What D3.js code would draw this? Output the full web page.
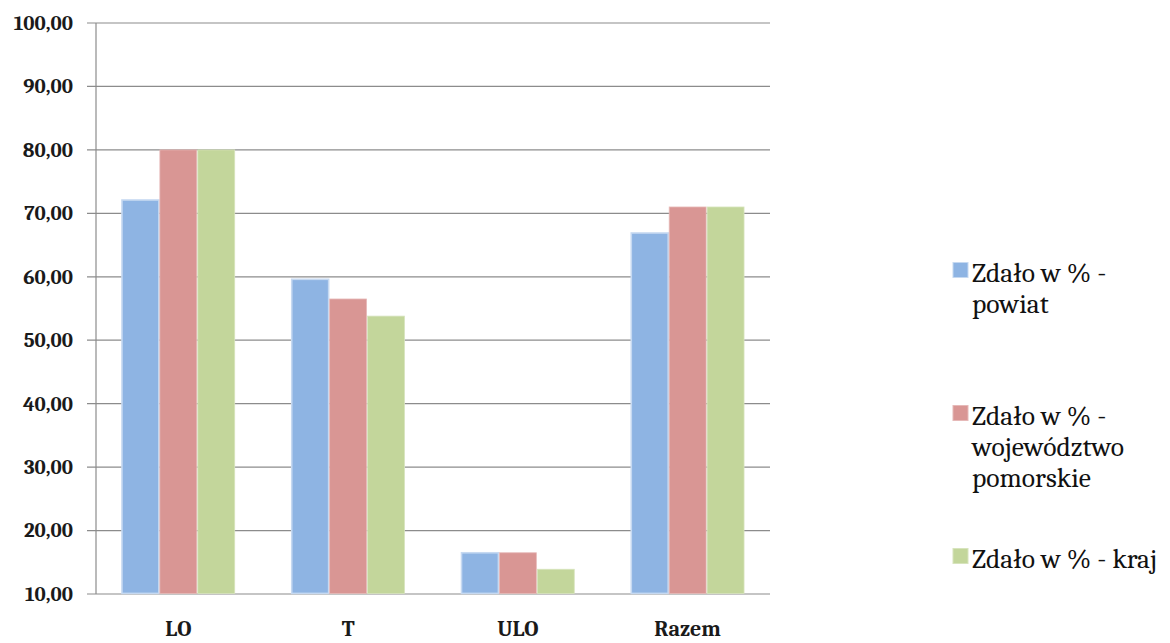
<!DOCTYPE html>
<html>
<head>
<meta charset="utf-8">
<script src="https://cdn.jsdelivr.net/npm/d3@7"></script>
<style>
  html, body { margin: 0; padding: 0; background: #fff; }
  svg { display: block; }
</style>
</head>
<body>
<svg id="chart" width="1170" height="643"></svg>
<script>
const categories = ["LO", "T", "ULO", "Razem"];
const seriesNames = ["Zdało w % - powiat", "Zdało w % - województwo pomorskie", "Zdało w % - kraj"];
const powiat = [72.1, 59.6, 16.5, 66.9];
const wojewodztwo = [80.0, 56.5, 16.5, 71.0];
const kraj = [80.0, 53.8, 13.9, 71.0];
const yTicks = [10, 20, 30, 40, 50, 60, 70, 80, 90, 100];
const legendLines = [["Zdało w % -", "powiat"], ["Zdało w % -", "województwo", "pomorskie"], ["Zdało w % - kraj"]];

const series = [powiat, wojewodztwo, kraj];
const colors = ["#8eb4e3", "#d99694", "#c3d69b"];
const strokes = ["#c6d9f1", "#e6b9b8", "#d7e4bd"];
const FONT = '"Caladea", "Liberation Serif", "Tinos", serif';

const svg = d3.select("#chart");
const plotLeft = 96, plotRight = 770, plotTop = 23, plotBottom = 594;

const x = d3.scaleBand().domain(categories).range([plotLeft, plotRight]).paddingInner(0.33).paddingOuter(0.15);
const xs = d3.scaleBand().domain(d3.range(series.length)).range([0, x.bandwidth()]);
const y = d3.scaleLinear().domain([10, 100]).range([plotBottom, plotTop]);

const fmt = v => v.toFixed(2).replace(".", ",");

// gridlines
svg.append("g")
  .selectAll("line").data(yTicks).join("line")
  .attr("x1", plotLeft - 9).attr("x2", plotRight)
  .attr("y1", d => y(d)).attr("y2", d => y(d))
  .attr("stroke", "#8c8c8c").attr("stroke-width", 1.2);

// y axis line
svg.append("line").attr("x1", plotLeft).attr("x2", plotLeft).attr("y1", plotTop).attr("y2", plotBottom)
  .attr("stroke", "#8c8c8c").attr("stroke-width", 1.2);

// y tick labels
svg.append("g").selectAll("text").data(yTicks).join("text")
  .attr("x", 73).attr("y", d => y(d))
  .attr("dy", "0.33em")
  .attr("text-anchor", "end")
  .style("font-family", FONT)
  .style("font-weight", "bold")
  .style("font-size", "21px")
  .attr("fill", "#1a1a1a")
  .text(fmt);

// bars
const groups = svg.append("g").selectAll("g").data(categories).join("g")
  .attr("transform", c => `translate(${x(c)},0)`);
groups.selectAll("rect")
  .data((c, i) => series.map((s, k) => ({ k, v: s[i] })))
  .join("rect")
  .attr("x", d => xs(d.k) + 0.5)
  .attr("width", xs.bandwidth() - 1)
  .attr("y", d => y(d.v))
  .attr("height", d => y(10) - y(d.v) - 0.6)
  .attr("fill", d => colors[d.k])
  .attr("stroke", d => strokes[d.k])
  .attr("stroke-width", d => d.k === 0 ? 1.6 : 0.8);

// x labels
svg.append("g").selectAll("text").data(categories).join("text")
  .attr("x", c => x(c) + x.bandwidth() / 2)
  .attr("y", 636)
  .attr("text-anchor", "middle")
  .style("font-family", FONT)
  .style("font-weight", "bold")
  .style("font-size", "22px")
  .attr("fill", "#1a1a1a")
  .text(c => c);

// legend
const legendY = [270, 413, 556];
const lg = svg.append("g");
legendLines.forEach((lines, i) => {
  lg.append("rect")
    .attr("x", 953).attr("y", legendY[i] - 7.5)
    .attr("width", 15).attr("height", 15)
    .attr("fill", colors[i]).attr("stroke", strokes[i]).attr("stroke-width", 1);
  const t = lg.append("text")
    .attr("x", 972).attr("y", legendY[i] + 12)
    .style("font-family", FONT)
    .style("font-size", "27.5px")
    .attr("fill", "#111");
  lines.forEach((ln, j) => {
    t.append("tspan").attr("x", 972).attr("dy", j === 0 ? 0 : 31).text(ln);
  });
});
</script>
</body>
</html>
